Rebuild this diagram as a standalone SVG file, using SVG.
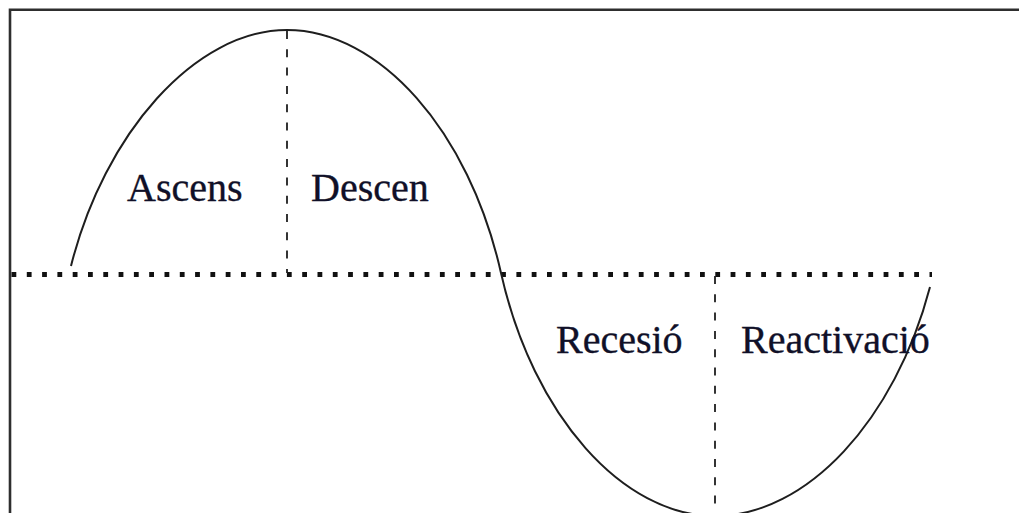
<svg xmlns="http://www.w3.org/2000/svg" width="1019" height="513" viewBox="0 0 1019 513">
  <style>
    .frame { fill: none; stroke: #2e2e2e; stroke-width: 2.6; }
    .curve { fill: none; stroke: #1e1e1e; stroke-width: 2; }
    .axis { fill: none; stroke: #111; stroke-width: 4.8; stroke-dasharray: 4.8 10.5; }
    .divider { fill: none; stroke: #1e1e1e; stroke-width: 1.8; stroke-dasharray: 8 10.3; }
    .label { font-family: "Liberation Serif", "Times New Roman", serif; font-size: 40px; fill: #101028; stroke: #101028; stroke-width: 0.35; }
  </style>
  <rect width="1019" height="513" fill="#ffffff"/>
  <g id="frame">
    <path class="frame" d="M10,513 V9.8 H1019"/>
  </g>
  <g id="axis">
    <line class="axis" x1="11.5" y1="274.5" x2="932" y2="274.5"/>
  </g>
  <g id="connectors">
    <line class="divider" x1="287" y1="31" x2="287" y2="273"/>
    <line class="divider" x1="715" y1="276" x2="715" y2="513"/>
    <path class="curve" d="M71,266 C104,134 195,30 287,30 C379,30 469,130 501,273 C533,416 623,516 715,516 C807,516 895,420 930,287"/>
  </g>
  <g id="ascens"><text class="label" x="127" y="201">Ascens</text></g>
  <g id="descen"><text class="label" x="311" y="201">Descen</text></g>
  <g id="recesio"><text class="label" x="556" y="353">Recesió</text></g>
  <g id="reactivacio"><text class="label" x="741" y="353">Reactivació</text></g>
</svg>
